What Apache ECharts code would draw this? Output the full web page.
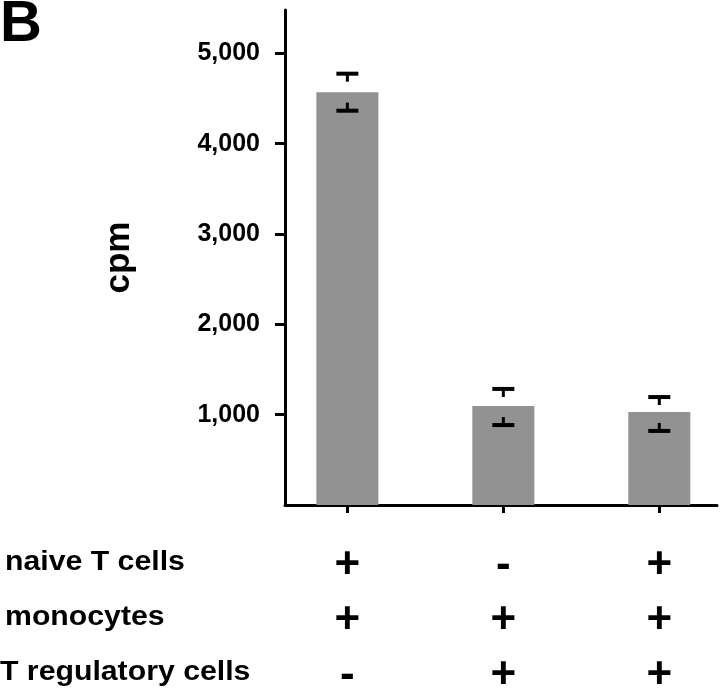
<!DOCTYPE html>
<html>
<head>
<meta charset="utf-8">
<title>cpm</title>
<script src="https://cdn.jsdelivr.net/npm/echarts@6/dist/echarts.min.js"></script>
<style>
  html, body { margin: 0; padding: 0; background: #fff; }
  #main { width: 720px; height: 689px; }
</style>
</head>
<body>
<div id="main"></div>
<script>
const FONT = '"Liberation Sans", Arial, Helvetica, sans-serif'

// conditions table below the bars (rows) and their +/- per bar
const conditions = ['naive T cells', 'monocytes', 'T regulatory cells']
const signs = [
  ['+', '-', '+'],
  ['+', '+', '+'],
  ['-', '+', '+']
]

// bars
const xPos = [1, 2, 3]
const cpm = [4570, 1095, 1030]
const errHigh = [4775, 1285, 1195]
const errLow = [4365, 885, 820]

const yTicks = [1000, 2000, 3000, 4000, 5000]

const chart = echarts.init(document.getElementById('main'))

function signColumn(i) {
  return signs.map(row => row[i] === '+' ? '{p|+}' : '{m|-}').join('\n')
}

function renderErr(params, api) {
  const x = api.value(0)
  const hi = api.coord([x, api.value(1)])
  const lo = api.coord([x, api.value(2)])
  const capW = 11
  const stem = 8
  const st = { stroke: '#000', lineWidth: 4 }
  return {
    type: 'group',
    children: [
      { type: 'line', shape: { x1: hi[0] - capW, y1: hi[1], x2: hi[0] + capW, y2: hi[1] }, style: st },
      { type: 'line', shape: { x1: hi[0], y1: hi[1], x2: hi[0], y2: hi[1] + stem }, style: { stroke: '#000', lineWidth: 3 } },
      { type: 'line', shape: { x1: lo[0] - capW, y1: lo[1], x2: lo[0] + capW, y2: lo[1] }, style: st },
      { type: 'line', shape: { x1: lo[0], y1: lo[1], x2: lo[0], y2: lo[1] - stem }, style: { stroke: '#000', lineWidth: 3 } }
    ]
  }
}

const option = {
  animation: false,
  backgroundColor: '#fff',
  grid: { left: 285, right: 3, top: 10, bottom: 184, outerBoundsMode: 'none' },
  xAxis: {
    type: 'value',
    min: 0.6,
    max: 3.37,
    splitLine: { show: false },
    axisLine: { show: true, onZero: false, lineStyle: { color: '#000', width: 3 } },
    axisTick: { show: true, customValues: xPos, length: 8, lineStyle: { color: '#000', width: 3 } },
    axisLabel: {
      customValues: xPos,
      margin: 33,
      formatter: (v) => signColumn(xPos.indexOf(v)),
      rich: {
        p: { fontSize: 44, fontWeight: 'bold', lineHeight: 55, fontFamily: FONT, color: '#000' },
        m: { fontSize: 44, fontWeight: 'bold', lineHeight: 55, fontFamily: FONT, color: '#000' }
      }
    }
  },
  yAxis: {
    type: 'value',
    min: 0,
    max: 5480,
    name: 'cpm',
    nameLocation: 'middle',
    nameRotate: 90,
    nameGap: 148,
    nameMoveOverlap: false,
    nameTextStyle: { fontSize: 35, fontWeight: 'bold', fontFamily: FONT, color: '#000' },
    splitLine: { show: false },
    axisLine: { show: true, lineStyle: { color: '#000', width: 3 } },
    axisTick: { show: true, customValues: yTicks, length: 10, lineStyle: { color: '#000', width: 3 } },
    axisLabel: {
      customValues: yTicks,
      margin: 25,
      fontSize: 25,
      fontWeight: 'bold',
      fontFamily: FONT,
      color: '#000',
      formatter: (v) => v.toLocaleString('en-US')
    }
  },
  graphic: [
    { type: 'text', left: 0, top: -4, style: { text: 'B', fontSize: 58, fontWeight: 'bold', fontFamily: FONT, fill: '#000' } },
    ...conditions.map((c, i) => ({
      type: 'text',
      x: i === 2 ? 0 : 5,
      y: 563 + i * 55,
      scaleX: 1.12,
      style: { text: c, fontSize: 27, fontWeight: 'bold', fontFamily: FONT, fill: '#000', verticalAlign: 'middle' }
    }))
  ],
  series: [
    {
      type: 'bar',
      barWidth: 62,
      itemStyle: { color: '#929292' },
      data: xPos.map((x, i) => [x, cpm[i]])
    },
    {
      type: 'custom',
      renderItem: renderErr,
      encode: { x: 0, y: [1, 2] },
      z: 5,
      data: xPos.map((x, i) => [x, errHigh[i], errLow[i]])
    }
  ]
}

chart.setOption(option)
</script>
</body>
</html>
